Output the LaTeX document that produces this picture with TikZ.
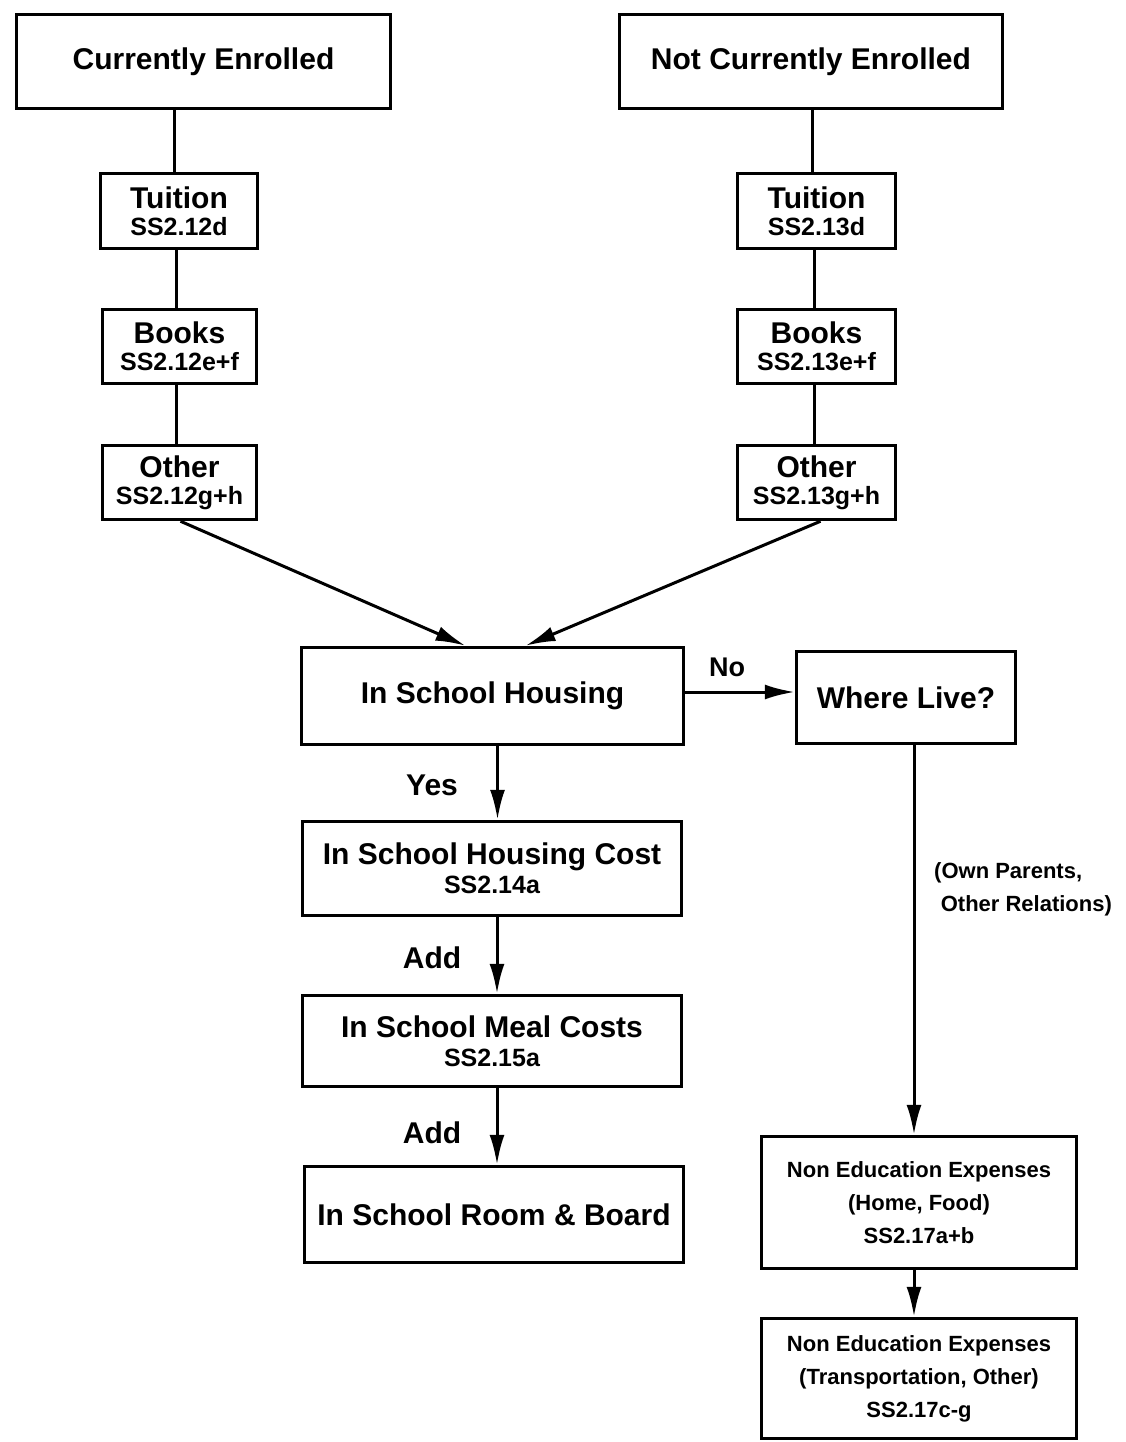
\documentclass[tikz,border=0pt]{standalone}
\usepackage{fontspec}
\setmainfont{Liberation Sans}
\usetikzlibrary{arrows.meta,calc}
\newcommand\mainf{\fontsize{30}{33}\selectfont\bfseries}
\newcommand\codef{\fontsize{25}{27}\selectfont\bfseries}
\newcommand\smallf{\fontsize{22}{33}\selectfont\bfseries}
\tikzset{
  box/.style={draw, line width=3.5pt, inner sep=0pt, align=center, font=\mainf},
  sbox/.style={box, font=\smallf},
  conn/.style={line width=3pt},
  arr/.style={conn, -{Latex[length=30pt,width=15pt]}},
  lbl/.style={font=\mainf, inner sep=0pt}
}
\begin{document}
\begin{tikzpicture}[x=1pt,y=-1pt]
\useasboundingbox (0,0) rectangle (1125,1442);
\node[box, minimum width=374pt, minimum height=94pt] (ce) at (203.5,61.5) {Currently Enrolled};
\node[box, minimum width=383pt, minimum height=94pt] (nce) at (811,61.5) {Not Currently Enrolled};
\node[box, minimum width=157pt, minimum height=75pt] (tl) at (179,211) {Tuition\\[-6pt]{\codef SS2.12d}};
\node[box, minimum width=154pt, minimum height=74pt] (bl) at (179.5,346.5) {Books\\[-6pt]{\codef SS2.12e+f}};
\node[box, minimum width=154pt, minimum height=74pt] (ol) at (179.5,482.5) {Other\\[-6pt]{\codef SS2.12g+h}};
\node[box, minimum width=158pt, minimum height=75pt] (tr) at (816.5,211) {Tuition\\[-6pt]{\codef SS2.13d}};
\node[box, minimum width=158pt, minimum height=74pt] (br) at (816.5,346.5) {Books\\[-6pt]{\codef SS2.13e+f}};
\node[box, minimum width=158pt, minimum height=74pt] (or) at (816.5,482.5) {Other\\[-6pt]{\codef SS2.13g+h}};
\node[box, minimum width=382pt, minimum height=97pt] (ish) at (492.5,696) {In School Housing};
\node[box, minimum width=219pt, minimum height=92pt] (wl) at (906,697.5) {Where Live?};
\node[box, minimum width=379pt, minimum height=94pt] (ishc) at (492,868.5) {In School Housing Cost\\[-4pt]{\codef SS2.14a}};
\node[box, minimum width=379pt, minimum height=91pt] (ismc) at (492,1041) {In School Meal Costs\\[-4pt]{\codef SS2.15a}};
\node[box, minimum width=379pt, minimum height=96pt] (rb) at (494,1214.5) {In School Room \& Board};
\node[sbox, minimum width=315pt, minimum height=132pt] (ne1) at (919,1202.5) {Non Education Expenses\\(Home, Food)\\SS2.17a+b};
\node[sbox, minimum width=315pt, minimum height=120pt] (ne2) at (919,1378.5) {Non Education Expenses\\(Transportation, Other)\\SS2.17c-g};

\draw[conn] ([xshift=-5pt]tl.north) -- ([xshift=-5pt]tl.north |- ce.south);
\draw[conn] ([xshift=-3pt]tl.south) -- ([xshift=-3pt]tl.south |- bl.north);
\draw[conn] ([xshift=-3pt]bl.south) -- ([xshift=-3pt]bl.south |- ol.north);
\draw[conn] ([xshift=-4pt]tr.north) -- ([xshift=-4pt]tr.north |- nce.south);
\draw[conn] ([xshift=-2pt]tr.south) -- ([xshift=-2pt]tr.south |- br.north);
\draw[conn] ([xshift=-2pt]br.south) -- ([xshift=-2pt]br.south |- or.north);

\draw[arr] ([xshift=1pt]ol.south) -- ([xshift=-27pt]ish.north);
\draw[arr] ([xshift=4pt]or.south) -- ([xshift=33pt]ish.north);
\draw[arr] ([yshift=4pt]ish.east) -- ([yshift=4pt]ish.east -| wl.west);
\node[lbl, font=\fontsize{27}{30}\selectfont\bfseries] (no) at (727,667) {No};

\draw[arr] ([xshift=5pt]ish.south) -- ([xshift=5pt]ish.south |- ishc.north);
\node[lbl] (yes) at (432,785) {Yes};
\draw[arr] ([xshift=5pt]ishc.south) -- ([xshift=5pt]ishc.south |- ismc.north);
\node[lbl] (add1) at (432,958) {Add};
\draw[arr] ([xshift=5pt]ismc.south) -- ([xshift=5pt]ismc.south |- rb.north);
\node[lbl] (add2) at (432,1133) {Add};

\draw[arr] ([xshift=8pt]wl.south) -- ([xshift=8pt]wl.south |- ne1.north);
\node[lbl, font=\smallf, anchor=west, align=left] (rel) at (934,889) {(Own Parents,\\\hspace{0.3em}Other Relations)};
\draw[arr] ([xshift=-5pt]ne1.south) -- ([xshift=-5pt]ne1.south |- ne2.north);
\end{tikzpicture}
\end{document}
